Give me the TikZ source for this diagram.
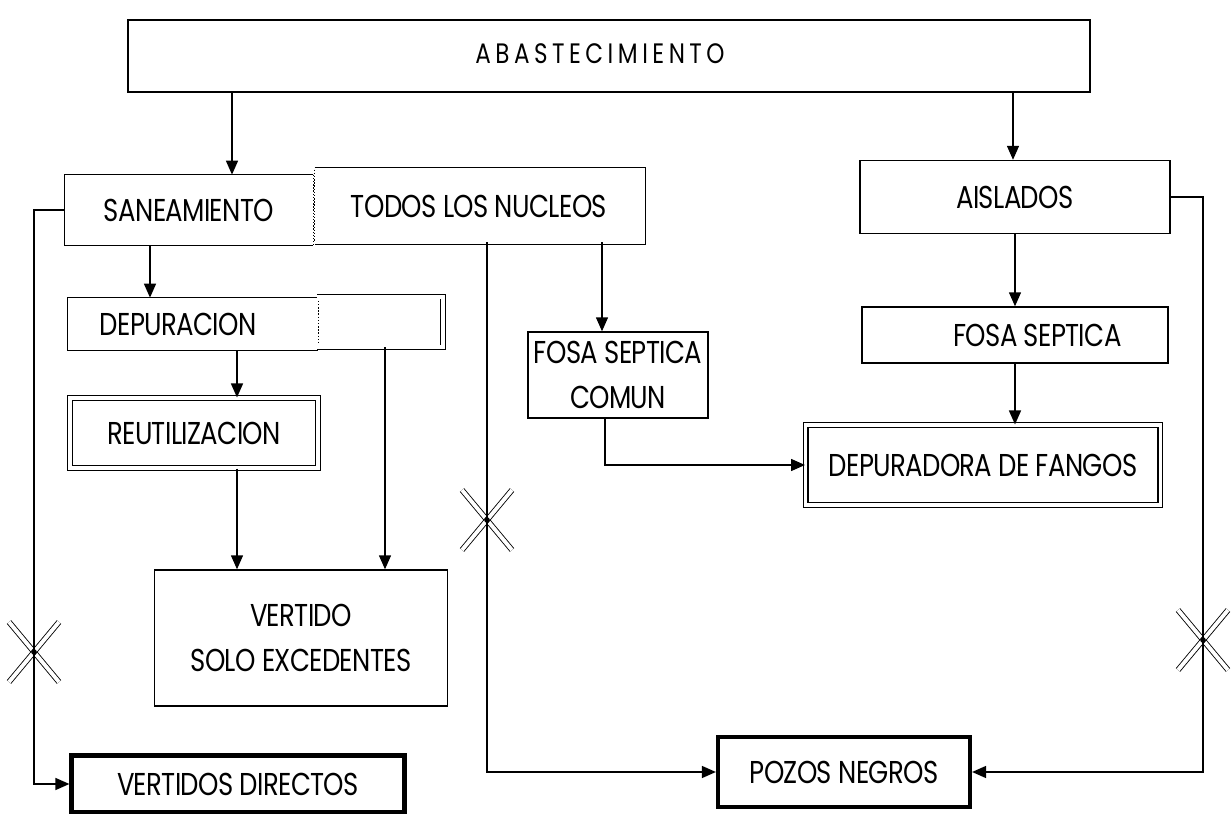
\documentclass[tikz,border=0pt]{standalone}
\usepackage{fontspec}
\setmainfont{Poppins}[FakeStretch=0.82,LetterSpace=-2]
\usetikzlibrary{arrows.meta}
\begin{document}
\begin{tikzpicture}[x=0.02cm,y=-0.02cm,
        font=\fontsize{18}{22}\selectfont,
        box/.style={draw, line width=0.8pt, inner sep=0pt, align=center},
        dbox/.style={draw, double, double distance=2.2pt, line width=0.6pt, inner sep=0pt, align=center},
        tbox/.style={draw, line width=2.4pt, inner sep=0pt, align=center},
        txt/.style={inner sep=0pt, align=center},
        arr/.style={line width=0.8pt, -{Triangle[length=2.8mm,width=2.4mm]}},
        lin/.style={line width=0.8pt},
        xline/.style={double, double distance=2.2pt, line width=0.5pt}]
        \useasboundingbox (0,0) rectangle (1232,814);
        \node[box, minimum width=19.24cm, minimum height=1.44cm] (abast) at (609,56) {};
        \node[txt, font=\fontsize{16}{19}\selectfont\addfontfeature{LetterSpace=16}] at (600,54) {ABASTECIMIENTO};
        \node[txt, minimum width=4.96cm, minimum height=1.4cm] (sanea) at (189,210) {SANEAMIENTO};
        \node[txt, minimum width=6.56cm, minimum height=1.44cm] (todos) at (479,206) {TODOS LOS NUCLEOS};
        \node[box, minimum width=6.2cm, minimum height=1.46cm] (aisl) at (1015,197) {AISLADOS};
        \node[txt, minimum width=5.0cm, minimum height=1.04cm] (depu) at (193,324) {\hspace*{-0.6cm}DEPURACION};
        \node[txt, minimum width=2.5cm, minimum height=1.0cm] (depuaux) at (380,322) {};
        \node[dbox, minimum width=4.96cm, minimum height=1.4cm] (reut) at (194,433) {REUTILIZACION};
        \node[box, minimum width=5.86cm, minimum height=2.72cm] (vert) at (301,638) {VERTIDO\\[4pt]SOLO EXCEDENTES};
        \node[tbox, minimum width=6.66cm, minimum height=1.14cm] (vdir) at (238,784) {VERTIDOS DIRECTOS};
        \node[box, minimum width=3.6cm, minimum height=1.72cm] (comun) at (618,375) {FOSA SEPTICA\\[4pt]COMUN};
        \node[box, minimum width=6.12cm, minimum height=1.12cm] (fsep) at (1015,335) {\hspace*{0.9cm}FOSA SEPTICA};
        \node[dbox, minimum width=7.1cm, minimum height=1.6cm] (depf) at (983,465) {DEPURADORA DE FANGOS};
        \node[tbox, minimum width=5.04cm, minimum height=1.4cm] (pozos) at (844,772) {POZOS NEGROS};
        % split boxes
        \draw[lin] (sanea.north east) -- (sanea.north west) -- (sanea.south west) -- (sanea.south east);
        \draw[lin, densely dotted] (sanea.north east) -- (sanea.south east);
        \draw[xline] (todos.north west) -- (todos.north east) -- (todos.south east) -- (todos.south west);
        \draw[lin, densely dotted] (todos.north west) -- (todos.south west);
        \draw[lin] (depu.north east) -- (depu.north west) -- (depu.south west) -- (depu.south east);
        \draw[lin, densely dotted] (depu.north east) -- (depu.south east);
        \draw[xline] (depuaux.north west) -- (depuaux.north east) -- (depuaux.south east) -- (depuaux.south west);
        % crossing marks
        \coordinate (x1) at (34,652);
        \coordinate (x2) at (487,520);
        \coordinate (x3) at (1203,640);
        \foreach \c in {x1,x2,x3} {
            \draw[xline] ([xshift=-0.5cm,yshift=0.6cm]\c) -- ([xshift=0.5cm,yshift=-0.6cm]\c);
            \draw[xline] ([xshift=-0.5cm,yshift=-0.6cm]\c) -- ([xshift=0.5cm,yshift=0.6cm]\c);
            \fill (\c) circle (1.6pt);
        }
        % connectors
        \draw[arr] (232,0 |- abast.south) -- (232,0 |- sanea.north);
        \draw[arr] (1013,0 |- abast.south) -- (1013,0 |- aisl.north);
        \draw[arr] (sanea.west) -| (x1) |- (vdir.west);
        \draw[arr] (150,0 |- sanea.south) -- (150,0 |- depu.north);
        \draw[arr] (237,0 |- depu.south) -- (237,0 |- reut.north);
        \draw[arr] (385,0 |- depuaux.south) -- (385,0 |- vert.north);
        \draw[arr] (237,0 |- reut.south) -- (237,0 |- vert.north);
        \draw[arr] (487,0 |- todos.south) -- (x2) |- (pozos.west);
        \draw[arr] (602,0 |- todos.south) -- (602,0 |- comun.north);
        \draw[arr] (605,0 |- comun.south) |- (depf.west);
        \draw[arr] (aisl.south) -- (fsep.north);
        \draw[arr] (fsep.south) -- (fsep.south |- depf.north);
        \draw[arr] (aisl.east) -| (x3) |- (pozos.east);
\end{tikzpicture}
\end{document}
